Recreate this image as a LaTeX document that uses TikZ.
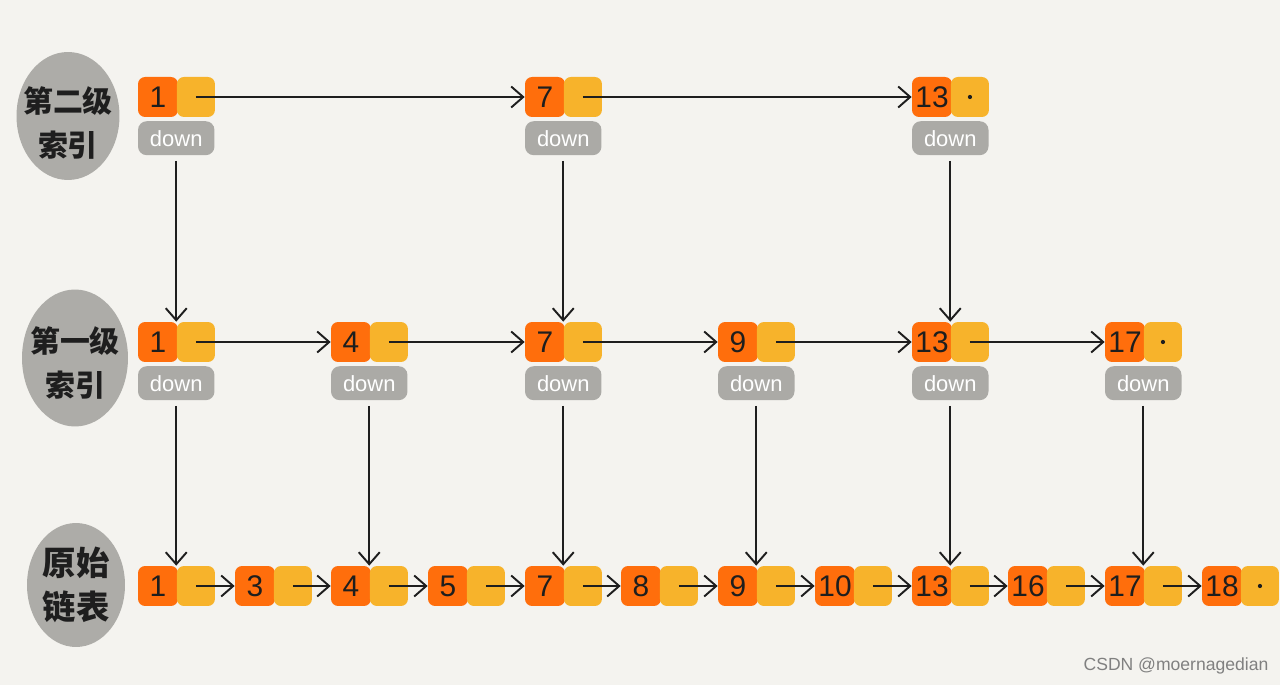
\documentclass[tikz,border=0pt]{standalone}
\usepackage{fontspec}
\setmainfont{Liberation Sans}
\newfontfamily\cjk{Noto Sans CJK SC}
\usepackage{tikz}
\usetikzlibrary{arrows.meta,positioning,shapes.geometric}
\definecolor{keyorange}{RGB}{255,110,12}
\definecolor{nextyellow}{RGB}{247,179,43}
\definecolor{downgray}{RGB}{171,170,166}
\definecolor{blobgray}{RGB}{173,172,168}
\definecolor{paper}{RGB}{244,243,239}
\definecolor{inkblack}{RGB}{30,30,30}
\definecolor{markgray}{RGB}{128,128,128}

\begin{document}
\begin{tikzpicture}[
    x=0.02cm, y=-0.02cm,
    >={Straight Barb[length=2.4mm,width=4.2mm]},
    keybox/.style={rectangle, rounded corners=4pt, fill=keyorange, minimum width=0.8cm, minimum height=0.8cm, inner sep=0pt, text=inkblack, font=\fontsize{17}{17}\selectfont},
    nextbox/.style={rectangle, rounded corners=4pt, fill=nextyellow, minimum width=0.76cm, minimum height=0.8cm, inner sep=0pt},
    downbox/.style={rectangle, rounded corners=5pt, fill=downgray, minimum width=1.53cm, minimum height=0.68cm, inner sep=0pt, text=white, font=\fontsize{12.5}{12.5}\selectfont},
    levelblob/.style={ellipse, fill=blobgray, inner sep=0pt},
    leveltext/.style={align=center, inner sep=0pt, text=inkblack, font=\cjk\bfseries\fontsize{17}{25}\selectfont},
    nullmark/.style={circle, fill=inkblack, inner sep=0pt, minimum size=2.4pt},
    link/.style={->, line width=1.1pt, color=inkblack},
    uplink/.style={->, line width=1.1pt, color=inkblack, shorten <=3pt}
]

% canvas
\fill[paper] (0,0) rectangle (1280,685);

% Level labels
\node[levelblob, minimum width=2.06cm, minimum height=2.56cm] (lvltwo) at (68,116) {};
\node[leveltext] (lvltwotext) at ([yshift=-4pt]lvltwo.center) {第二级\\索引};
\node[levelblob, minimum width=2.12cm, minimum height=2.74cm] (lvlone) at (75,358) {};
\node[leveltext] (lvlonetext) at ([yshift=-3pt]lvlone.center) {第一级\\索引};
\node[levelblob, minimum width=1.96cm, minimum height=2.48cm] (lvlbase) at (76,585) {};
\node[leveltext, font=\cjk\bfseries\fontsize{19}{25}\selectfont] (lvlbasetext) at (lvlbase.center) {原始\\链表};

% Second-level index
\node[keybox] (a1) at (158,97) {1};
\node[nextbox, right=-1pt of a1] (a1n) {};
\node[downbox, below right=2pt and 0pt of a1.south west] (a1d) {down};

\node[keybox] (a7) at (545,97) {7};
\node[nextbox, right=-1pt of a7] (a7n) {};
\node[downbox, below right=2pt and 0pt of a7.south west] (a7d) {down};

\node[keybox] (a13) at (932,97) {13};
\node[nextbox, right=-1pt of a13] (a13n) {};
\node[downbox, below right=2pt and 0pt of a13.south west] (a13d) {down};
\node[nullmark] (a13x) at (a13n.center) {};

\draw[link] (a1n.center) -- (a7.west);
\draw[link] (a7n.center) -- (a13.west);

% First-level index
\node[keybox] (b1) at (158,342) {1};
\node[nextbox, right=-1pt of b1] (b1n) {};
\node[downbox, below right=2pt and 0pt of b1.south west] (b1d) {down};

\node[keybox] (b4) at (351,342) {4};
\node[nextbox, right=-1pt of b4] (b4n) {};
\node[downbox, below right=2pt and 0pt of b4.south west] (b4d) {down};

\node[keybox] (b7) at (545,342) {7};
\node[nextbox, right=-1pt of b7] (b7n) {};
\node[downbox, below right=2pt and 0pt of b7.south west] (b7d) {down};

\node[keybox] (b9) at (738,342) {9};
\node[nextbox, right=-1pt of b9] (b9n) {};
\node[downbox, below right=2pt and 0pt of b9.south west] (b9d) {down};

\node[keybox] (b13) at (932,342) {13};
\node[nextbox, right=-1pt of b13] (b13n) {};
\node[downbox, below right=2pt and 0pt of b13.south west] (b13d) {down};

\node[keybox] (b17) at (1125,342) {17};
\node[nextbox, right=-1pt of b17] (b17n) {};
\node[downbox, below right=2pt and 0pt of b17.south west] (b17d) {down};
\node[nullmark] (b17x) at (b17n.center) {};

\draw[link] (b1n.center) -- (b4.west);
\draw[link] (b4n.center) -- (b7.west);
\draw[link] (b7n.center) -- (b9.west);
\draw[link] (b9n.center) -- (b13.west);
\draw[link] (b13n.center) -- (b17.west);

% Original linked list
\node[keybox] (c1) at (158,586) {1};
\node[nextbox, right=-1pt of c1] (c1n) {};
\node[keybox] (c3) at (255,586) {3};
\node[nextbox, right=-1pt of c3] (c3n) {};
\node[keybox] (c4) at (351,586) {4};
\node[nextbox, right=-1pt of c4] (c4n) {};
\node[keybox] (c5) at (448,586) {5};
\node[nextbox, right=-1pt of c5] (c5n) {};
\node[keybox] (c7) at (545,586) {7};
\node[nextbox, right=-1pt of c7] (c7n) {};
\node[keybox] (c8) at (641,586) {8};
\node[nextbox, right=-1pt of c8] (c8n) {};
\node[keybox] (c9) at (738,586) {9};
\node[nextbox, right=-1pt of c9] (c9n) {};
\node[keybox] (c10) at (835,586) {10};
\node[nextbox, right=-1pt of c10] (c10n) {};
\node[keybox] (c13) at (932,586) {13};
\node[nextbox, right=-1pt of c13] (c13n) {};
\node[keybox] (c16) at (1028,586) {16};
\node[nextbox, right=-1pt of c16] (c16n) {};
\node[keybox] (c17) at (1125,586) {17};
\node[nextbox, right=-1pt of c17] (c17n) {};
\node[keybox] (c18) at (1222,586) {18};
\node[nextbox, right=-1pt of c18] (c18n) {};
\node[nullmark] (c18x) at (c18n.center) {};

\draw[link] (c1n.center) -- (c3.west);
\draw[link] (c3n.center) -- (c4.west);
\draw[link] (c4n.center) -- (c5.west);
\draw[link] (c5n.center) -- (c7.west);
\draw[link] (c7n.center) -- (c8.west);
\draw[link] (c8n.center) -- (c9.west);
\draw[link] (c9n.center) -- (c10.west);
\draw[link] (c10n.center) -- (c13.west);
\draw[link] (c13n.center) -- (c16.west);
\draw[link] (c16n.center) -- (c17.west);
\draw[link] (c17n.center) -- (c18.west);

% down pointers
\draw[uplink] (a1d.south) -- (a1d.south |- b1.north);
\draw[uplink] (a7d.south) -- (a7d.south |- b7.north);
\draw[uplink] (a13d.south) -- (a13d.south |- b13.north);

\draw[uplink] (b1d.south) -- (b1d.south |- c1.north);
\draw[uplink] (b4d.south) -- (b4d.south |- c4.north);
\draw[uplink] (b7d.south) -- (b7d.south |- c7.north);
\draw[uplink] (b9d.south) -- (b9d.south |- c9.north);
\draw[uplink] (b13d.south) -- (b13d.south |- c13.north);
\draw[uplink] (b17d.south) -- (b17d.south |- c17.north);

% watermark
\node[font=\fontsize{10}{12}\selectfont, text=markgray] (mark) at (1176,666) {CSDN @moernagedian};

\end{tikzpicture}
\end{document}
